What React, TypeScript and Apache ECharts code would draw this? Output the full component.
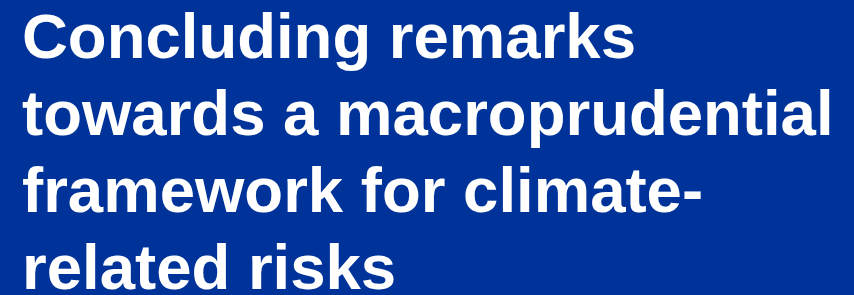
import React, { useEffect, useRef } from "react";
import * as echarts from "echarts";

const titleLines = [
  "Concluding remarks",
  "towards a macroprudential",
  "framework for climate-",
  "related risks",
];

export default function App() {
  const ref = useRef<HTMLDivElement>(null);
  useEffect(() => {
    document.body.style.margin = "0";
    const chart = echarts.init(ref.current!, undefined, { renderer: "svg" });
    chart.setOption({
      animation: false,
      backgroundColor: "#003399",
      graphic: titleLines.map((t, i) => ({
        type: "text",
        left: 22,
        top: 4 + i * 77,
        style: {
          text: t,
          fill: "#ffffff",
          font: "bold 63.5px 'Liberation Sans', Arial, sans-serif",
        },
      })),
    });
    return () => chart.dispose();
  }, []);
  return <div ref={ref} style={{ width: 854, height: 295, position: "absolute", left: 0, top: 0 }} />;
}
